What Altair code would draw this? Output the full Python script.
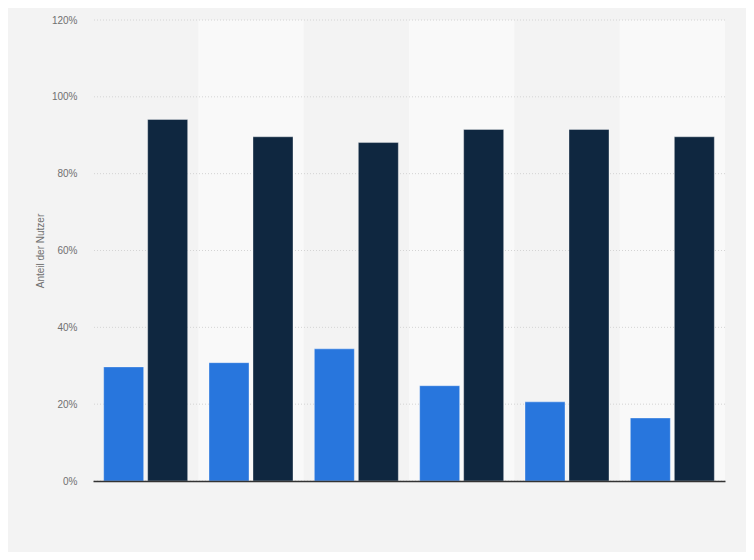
import altair as alt
import pandas as pd

categories = ["1", "2", "3", "4", "5", "6"]
series_names = ["Serie A", "Serie B"]
series_a = [29.7, 30.8, 34.4, 24.8, 20.6, 16.4]
series_b = [94.1, 89.6, 88.1, 91.5, 91.5, 89.6]
y_ticks = [0, 20, 40, 60, 80, 100, 120]

rows = []
for c, a, b in zip(categories, series_a, series_b):
    rows.append({"cat": c, "series": series_names[0], "value": a})
    rows.append({"cat": c, "series": series_names[1], "value": b})
bars_df = pd.DataFrame(rows)
bands_df = pd.DataFrame({"cat": categories, "odd": [i % 2 for i in range(len(categories))]})
grid_df = pd.DataFrame({"t": y_ticks})

FONT = "Liberation Sans"
yscale = alt.Scale(domain=[0, 120], nice=False)
yaxis = alt.Axis(
    values=y_ticks, labelExpr="datum.value + '%'", grid=False, domain=False,
    ticks=False, labelPadding=16, labelFontSize=10, labelColor="#707070",
    labelFont=FONT, title="Anteil der Nutzer", titleFontSize=10,
    titleColor="#707070", titleFont=FONT, titleFontWeight="normal",
    titlePadding=6)
xscale = alt.Scale(domain=categories, paddingInner=0, paddingOuter=0)
xaxis = alt.Axis(labels=False, ticks=False, title=None, domainColor="#333333",
                 domainWidth=1.5, grid=False)

bands = alt.Chart(bands_df).transform_filter("datum.odd == 1").mark_rect(
    color="#f9f9f9"
).encode(
    x=alt.X("cat:N", scale=xscale, axis=xaxis),
    y=alt.Y(datum=120, scale=yscale, axis=yaxis),
    y2=alt.Y2(datum=0),
)

grid = alt.Chart(grid_df).mark_rule(color="#d4d4d4", strokeDash=[1, 2], strokeWidth=1).encode(
    y=alt.Y("t:Q", scale=yscale, axis=yaxis),
)

bars = alt.Chart(bars_df).mark_bar(stroke="white", strokeOpacity=0.35, strokeWidth=1).encode(
    x=alt.X("cat:N", scale=xscale, axis=xaxis),
    xOffset=alt.XOffset("series:N", sort=series_names,
                        scale=alt.Scale(paddingInner=0.0909, paddingOuter=0.2425)),
    y=alt.Y("value:Q", scale=yscale, axis=yaxis),
    color=alt.Color("series:N", sort=series_names,
                    scale=alt.Scale(domain=series_names, range=["#2876dd", "#0f2740"]),
                    legend=None),
)

chart = alt.layer(bands, grid, bars).properties(
    width=632, height=461,
    background="#f3f3f3",
    autosize=alt.AutoSizeParams(type="none"),
    padding={"left": 85, "top": 12, "right": 21, "bottom": 71},
).configure_view(stroke=None)

chart.save("out.html", embed_options={"renderer": "svg", "actions": False})
